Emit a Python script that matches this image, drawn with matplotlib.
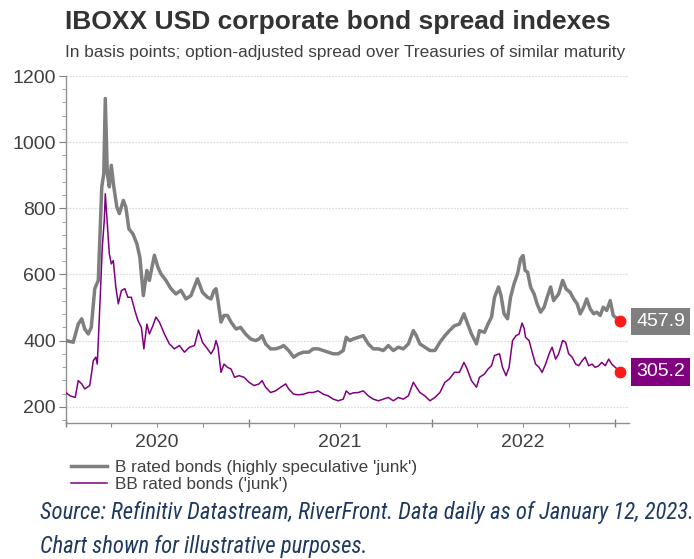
import matplotlib
matplotlib.use("Agg")
import matplotlib.pyplot as plt
import matplotlib.dates as mdates
import matplotlib.transforms as mtransforms
from matplotlib import font_manager
from matplotlib.ticker import MultipleLocator, FuncFormatter, NullFormatter
import pandas as pd

# ---------------- data ----------------
b_dates = [
    "2020-01-01", "2020-01-16", "2020-01-26", "2020-02-02", "2020-02-08", "2020-02-15", "2020-02-21",
    "2020-02-28", "2020-03-06", "2020-03-13", "2020-03-17", "2020-03-20", "2020-03-24", "2020-03-28",
    "2020-04-01", "2020-04-06", "2020-04-12", "2020-04-17", "2020-04-25", "2020-04-30", "2020-05-06",
    "2020-05-14", "2020-05-22", "2020-05-28", "2020-06-04", "2020-06-11", "2020-06-16", "2020-06-26",
    "2020-07-03", "2020-07-09", "2020-07-19", "2020-07-29", "2020-08-08", "2020-08-18", "2020-08-28",
    "2020-09-07", "2020-09-20", "2020-09-30", "2020-10-10", "2020-10-17", "2020-10-23", "2020-10-27",
    "2020-10-31", "2020-11-06", "2020-11-12", "2020-11-19", "2020-11-26", "2020-12-06", "2020-12-15",
    "2020-12-25", "2021-01-04", "2021-01-14", "2021-01-21", "2021-01-27", "2021-02-03", "2021-02-13",
    "2021-02-23", "2021-03-05", "2021-03-11", "2021-03-21", "2021-03-31", "2021-04-10", "2021-04-20",
    "2021-04-30", "2021-05-09", "2021-05-19", "2021-05-29", "2021-06-08", "2021-06-18", "2021-06-28",
    "2021-07-08", "2021-07-14", "2021-07-21", "2021-07-28", "2021-08-07", "2021-08-17", "2021-08-27",
    "2021-09-06", "2021-09-16", "2021-09-26", "2021-10-06", "2021-10-16", "2021-10-26", "2021-11-05",
    "2021-11-15", "2021-11-25", "2021-12-01", "2021-12-08", "2021-12-18", "2021-12-28", "2022-01-07",
    "2022-01-17", "2022-01-27", "2022-02-05", "2022-02-15", "2022-02-25", "2022-03-06", "2022-03-11",
    "2022-03-21", "2022-03-31", "2022-04-06", "2022-04-16", "2022-04-23", "2022-04-30", "2022-05-06",
    "2022-05-14", "2022-05-19", "2022-05-25", "2022-06-01", "2022-06-07", "2022-06-14", "2022-06-21",
    "2022-06-27", "2022-07-02", "2022-07-06", "2022-07-11", "2022-07-17", "2022-07-24", "2022-07-30",
    "2022-08-06", "2022-08-13", "2022-08-19", "2022-08-26", "2022-09-01", "2022-09-11", "2022-09-19",
    "2022-09-26", "2022-10-04", "2022-10-11", "2022-10-18", "2022-10-24", "2022-10-31", "2022-11-06",
    "2022-11-13", "2022-11-20", "2022-11-26", "2022-12-03", "2022-12-09", "2022-12-16", "2022-12-23",
    "2022-12-29", "2023-01-12",
]
b_values = [
    400, 395, 450, 466, 435, 420, 440,
    557, 582, 865, 905, 1132, 905, 865,
    930, 865, 804, 784, 824, 804, 738,
    723, 693, 652, 536, 612, 582, 658,
    622, 602, 582, 557, 541, 552, 526,
    536, 587, 546, 531, 526, 551, 557,
    521, 456, 476, 476, 456, 435, 440,
    420, 405, 400, 405, 415, 390, 375,
    375, 380, 385, 370, 350, 360, 365,
    365, 375, 375, 370, 365, 360, 360,
    370, 410, 400, 405, 410, 415, 390,
    375, 375, 370, 385, 370, 380, 375,
    390, 430, 415, 390, 380, 370, 370,
    395, 415, 430, 445, 450, 481, 460,
    420, 390, 430, 425, 450, 471, 531,
    562, 536, 481, 466, 531, 572, 602,
    647, 657, 612, 607, 562, 541, 511,
    486, 501, 531, 562, 521, 541, 582,
    556, 546, 526, 511, 481, 501, 526,
    496, 481, 486, 476, 501, 491, 521,
    476, 457.9,
]

bb_dates = [
    "2020-01-01", "2020-01-10", "2020-01-20", "2020-01-26", "2020-02-02", "2020-02-08", "2020-02-18",
    "2020-02-25", "2020-03-01", "2020-03-04", "2020-03-09", "2020-03-14", "2020-03-18", "2020-03-20",
    "2020-03-24", "2020-03-28", "2020-04-01", "2020-04-05", "2020-04-10", "2020-04-15", "2020-04-21",
    "2020-04-28", "2020-05-04", "2020-05-11", "2020-05-18", "2020-05-24", "2020-05-31", "2020-06-05",
    "2020-06-11", "2020-06-16", "2020-06-23", "2020-06-29", "2020-07-06", "2020-07-16", "2020-07-26",
    "2020-08-05", "2020-08-15", "2020-08-25", "2020-09-04", "2020-09-14", "2020-09-22", "2020-09-30",
    "2020-10-10", "2020-10-17", "2020-10-23", "2020-10-27", "2020-10-31", "2020-11-06", "2020-11-12",
    "2020-11-19", "2020-11-26", "2020-12-03", "2020-12-12", "2020-12-22", "2021-01-01", "2021-01-11",
    "2021-01-21", "2021-01-27", "2021-02-03", "2021-02-13", "2021-02-23", "2021-03-05", "2021-03-15",
    "2021-03-21", "2021-03-31", "2021-04-10", "2021-04-20", "2021-04-30", "2021-05-09", "2021-05-19",
    "2021-05-29", "2021-06-08", "2021-06-18", "2021-06-28", "2021-07-08", "2021-07-14", "2021-07-21",
    "2021-07-28", "2021-08-07", "2021-08-17", "2021-08-27", "2021-09-06", "2021-09-16", "2021-09-26",
    "2021-10-06", "2021-10-16", "2021-10-26", "2021-11-05", "2021-11-15", "2021-11-25", "2021-12-01",
    "2021-12-08", "2021-12-18", "2021-12-28", "2022-01-07", "2022-01-17", "2022-01-27", "2022-02-05",
    "2022-02-15", "2022-02-25", "2022-03-06", "2022-03-11", "2022-03-21", "2022-03-31", "2022-04-06",
    "2022-04-16", "2022-04-23", "2022-04-30", "2022-05-06", "2022-05-16", "2022-05-22", "2022-05-29",
    "2022-06-04", "2022-06-11", "2022-06-18", "2022-06-24", "2022-06-30", "2022-07-04", "2022-07-07",
    "2022-07-14", "2022-07-21", "2022-07-27", "2022-08-03", "2022-08-09", "2022-08-16", "2022-08-23",
    "2022-08-29", "2022-09-05", "2022-09-11", "2022-09-19", "2022-09-25", "2022-10-01", "2022-10-08",
    "2022-10-15", "2022-10-21", "2022-10-28", "2022-11-03", "2022-11-10", "2022-11-17", "2022-11-23",
    "2022-11-30", "2022-12-06", "2022-12-13", "2022-12-20", "2022-12-26", "2023-01-12",
]
bb_values = [
    243, 233, 228, 279, 269, 254, 264,
    339, 350, 329, 501, 683, 764, 844,
    754, 663, 632, 642, 562, 511, 551,
    557, 531, 531, 491, 461, 440, 375,
    450, 420, 445, 471, 456, 420, 390,
    375, 385, 365, 380, 385, 432, 395,
    375, 360, 375, 400, 380, 304, 329,
    319, 314, 289, 294, 289, 274, 264,
    269, 279, 259, 243, 248, 259, 269,
    254, 238, 236, 238, 243, 243, 248,
    238, 233, 223, 218, 223, 248, 238,
    242, 243, 248, 233, 223, 218, 223,
    228, 218, 228, 223, 233, 274, 259,
    243, 233, 218, 228, 243, 274, 284,
    304, 304, 334, 319, 279, 259, 289,
    299, 314, 324, 355, 360, 319, 294,
    319, 400, 415, 420, 453, 438, 410,
    400, 360, 329, 319, 304, 329, 360,
    380, 344, 360, 400, 395, 360, 350,
    329, 324, 339, 350, 324, 329, 319,
    324, 334, 324, 344, 329, 305.2,
]

series_labels = ["B rated bonds (highly speculative 'junk')", "BB rated bonds ('junk')"]
year_labels = ["2020", "2021", "2022"]
y_ticks = [200, 400, 600, 800, 1000, 1200]

title = "IBOXX USD corporate bond spread indexes"
subtitle = "In basis points; option-adjusted spread over Treasuries of similar maturity"
source_lines = ["Source: Refinitiv Datastream, RiverFront. Data daily as of January 12, 2023.",
                "Chart shown for illustrative purposes."]

# ---------------- styling ----------------
GRAY = "#7f7f7f"
PURPLE = "#800080"
RED = "#ff1a1a"
NAVY = "#1f3a60"
TEXT = "#404040"

plt.rcParams["font.family"] = ["Liberation Sans", "DejaVu Sans"]

# pick a condensed family for the source note if one is installed
src_family, src_size = "Liberation Sans", 13.5
for fam, size in [("Liberation Sans Narrow", 16.4), ("Roboto Condensed", 16.4),
                  ("DejaVu Sans Condensed", 14.2), ("Open Sans Condensed", 16.4)]:
    try:
        font_manager.findfont(font_manager.FontProperties(family=fam), fallback_to_default=False)
        src_family, src_size = fam, size
        break
    except Exception:
        pass

fig = plt.figure(figsize=(6.94, 5.59), dpi=100)
ax = fig.add_axes([0.0947, 0.2428, 0.906 - 0.0947, 0.864 - 0.2428])

bd = pd.to_datetime(b_dates)
bbd = pd.to_datetime(bb_dates)

l1, = ax.plot(bd, b_values, color=GRAY, lw=2.5, solid_joinstyle="round", zorder=3)
l2, = ax.plot(bbd, bb_values, color=PURPLE, lw=1.1, zorder=4)

ax.plot(bd[-1:], b_values[-1:], "o", color=RED, ms=7.5, zorder=6, clip_on=False)
ax.plot(bbd[-1:], bb_values[-1:], "o", color=RED, ms=7.5, zorder=6, clip_on=False)

ax.set_xlim(pd.Timestamp("2020-01-01"), pd.Timestamp("2023-01-29"))
ax.set_ylim(150, 1200)

# y axis
ax.yaxis.set_major_locator(MultipleLocator(200))
ax.yaxis.set_minor_locator(MultipleLocator(40))
ax.set_yticks(y_ticks)
ax.tick_params(axis="y", which="major", length=5, width=0.8, color="#808080",
               labelsize=14, labelcolor=TEXT, pad=2)
ax.tick_params(axis="y", which="minor", length=3, width=0.6, color="#909090")
ax.grid(axis="y", which="major", color="#dcdcdc", lw=0.9, ls=(0, (1.5, 1)))

# x axis: year boundary ticks (major), quarter ticks (minor), year label at mid-year
ax.xaxis.set_major_locator(mdates.YearLocator())
ax.xaxis.set_major_formatter(NullFormatter())
ax.xaxis.set_minor_locator(mdates.MonthLocator(bymonth=[4, 7, 10]))
label_map = {int(y): y for y in year_labels}


def minor_fmt(x, pos):
    d = mdates.num2date(x)
    if d.month == 7 and d.year in label_map:
        return label_map[d.year]
    return ""


ax.xaxis.set_minor_formatter(FuncFormatter(minor_fmt))
ax.tick_params(axis="x", which="major", length=6, width=1.0, color="#808080", direction="inout")
ax.tick_params(axis="x", which="minor", length=3, width=0.8, color="#909090",
               labelsize=14, labelcolor=TEXT, pad=5)

for s in ["top", "right"]:
    ax.spines[s].set_visible(False)
for s in ["left", "bottom"]:
    ax.spines[s].set_color("#909090")
    ax.spines[s].set_linewidth(1.0)

# end labels
tr = mtransforms.blended_transform_factory(ax.transAxes, ax.transData)
ax.text(1.013, b_values[-1], f"{b_values[-1]:.1f}", transform=tr, ha="left", va="center",
        fontsize=14, color="white",
        bbox=dict(boxstyle="square,pad=0.28", fc=GRAY, ec="none"), zorder=7, clip_on=False)
ax.text(1.013, bb_values[-1], f"{bb_values[-1]:.1f}", transform=tr, ha="left", va="center",
        fontsize=14, color="white",
        bbox=dict(boxstyle="square,pad=0.28", fc=PURPLE, ec="none"), zorder=7, clip_on=False)

# titles
fig.text(65 / 694, 1 - 22 / 559, title, fontsize=19, fontweight="bold", color="#333333",
         ha="left", va="center")
fig.text(65 / 694, 1 - 53 / 559, subtitle, fontsize=12.4, color=TEXT, ha="left", va="center")

# legend
fig.legend([l1, l2], series_labels, loc="upper left", bbox_to_anchor=(71 / 694, 1 - 460 / 559),
           frameon=False, fontsize=12.3, handlelength=2.1, handletextpad=0.45, labelspacing=0.1,
           borderaxespad=0, borderpad=0, labelcolor=TEXT)

# source
fig.text(40 / 694, 1 - 513 / 559, source_lines[0], fontsize=src_size, style="italic", color=NAVY,
         family=[src_family, "DejaVu Sans"], ha="left", va="center")
fig.text(40 / 694, 1 - 546 / 559, source_lines[1], fontsize=src_size, style="italic", color=NAVY,
         family=[src_family, "DejaVu Sans"], ha="left", va="center")

fig.savefig("out.png", dpi=100)
